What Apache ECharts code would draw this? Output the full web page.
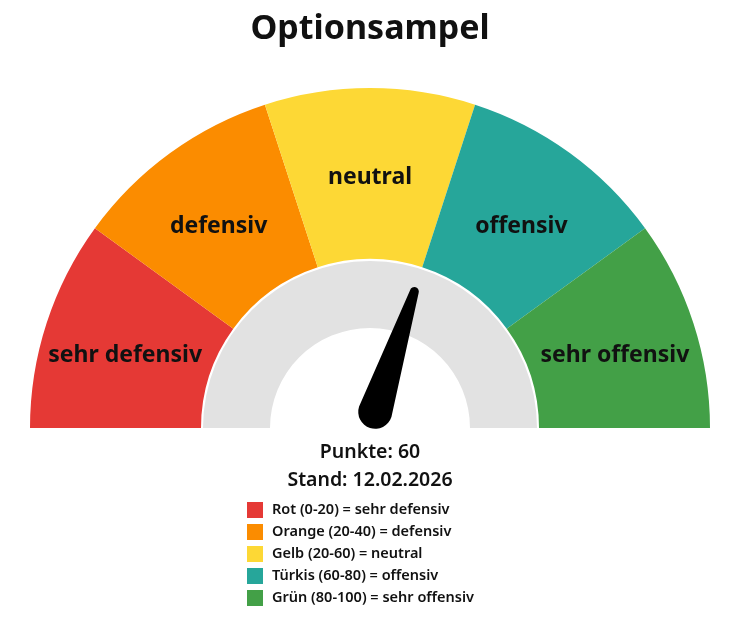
<!DOCTYPE html>
<html>
<head>
<meta charset="utf-8">
<script src="https://cdn.jsdelivr.net/npm/echarts@6/dist/echarts.min.js"></script>
<style>
  html, body { margin: 0; padding: 0; background: #fff; }
  #chart { width: 729px; height: 617px; }
</style>
</head>
<body>
<div id="chart"></div>
<script>
  // Zonen der Ampel
  var zoneLabels = ['sehr defensiv', 'defensiv', 'neutral', 'offensiv', 'sehr offensiv']
  var legendNames = [
    'Rot (0-20) = sehr defensiv',
    'Orange (20-40) = defensiv',
    'Gelb (20-60) = neutral',
    'Türkis (60-80) = offensiv',
    'Grün (80-100) = sehr offensiv'
  ]
  var zoneSizes = [20, 20, 20, 20, 20]
  var zoneColors = ['#E53935', '#FB8C00', '#FDD835', '#26A69A', '#43A047']
  var punkte = 60
  var stand = '12.02.2026'

  var font = 'Noto Sans'
  var center = [370, 428]

  var zoneData = zoneSizes.map(function (v, i) {
    return { name: legendNames[i], value: v, itemStyle: { color: zoneColors[i] } }
  })
  // untere Hälfte unsichtbar
  zoneData.push({
    name: 'rest', value: 100,
    itemStyle: { color: 'transparent' },
    label: { show: false }, tooltip: { show: false }
  })

  var chart = echarts.init(document.getElementById('chart'))
  chart.setOption({
    animation: false,
    title: [
      {
        text: 'Optionsampel', left: 365, top: 7, textAlign: 'center',
        textStyle: { fontFamily: font, fontSize: 34, fontWeight: 'bold', color: '#111' }
      },
      {
        text: 'Stand: ' + stand, left: 365, top: 465, textAlign: 'center',
        textStyle: { fontFamily: font, fontSize: 19.5, fontWeight: 600, color: '#111' }
      }
    ],
    legend: {
      data: legendNames,
      orient: 'vertical',
      left: 242, top: 497,
      icon: 'rect',
      itemWidth: 16, itemHeight: 16, itemGap: 6,
      selectedMode: false,
      textStyle: { fontFamily: font, fontSize: 14.5, fontWeight: 600, color: '#111', padding: [0, 0, 0, 4] }
    },
    series: [
      {
        type: 'pie',
        center: center,
        radius: [169, 340],
        startAngle: 180,
        silent: true,
        z: 1,
        data: zoneData,
        label: {
          show: true,
          position: 'inside',
          color: '#111',
          formatter: function (p) { return '{gap|}\n{t|' + zoneLabels[p.dataIndex] + '}' },
          rich: {
            gap: { height: 14 },
            t: { fontFamily: font, fontSize: 23, fontWeight: 'bold', color: '#111', height: 30 }
          }
        },
        labelLine: { show: false }
      },
      {
        type: 'pie',
        center: center,
        radius: [100, 167],
        startAngle: 180,
        silent: true,
        z: 1,
        label: { show: false },
        data: [
          { name: 'ring', value: 50, itemStyle: { color: '#E2E2E2' } },
          { name: 'ring2', value: 50, itemStyle: { color: 'transparent' } }
        ]
      },
      {
        type: 'gauge',
        center: center,
        radius: 340,
        startAngle: 180,
        endAngle: 0,
        min: 0,
        max: 100,
        z: 10,
        axisLine: { show: false },
        splitLine: { show: false },
        axisTick: { show: false },
        axisLabel: { show: false },
        pointer: {
          icon: 'path://M12.5,4.5 A4.5,4.5 0 0 1 21.5,4.5 L34,131 A17,17 0 0 1 0,131 Z',
          length: 148,
          width: 34,
          itemStyle: { color: '#000' }
        },
        anchor: { show: false },
        title: { show: false },
        detail: {
          offsetCenter: [0, 24],
          formatter: 'Punkte: {value}',
          fontFamily: font, fontSize: 19.5, fontWeight: 600, color: '#111'
        },
        data: [{ value: punkte }]
      }
    ]
  })
</script>
</body>
</html>
